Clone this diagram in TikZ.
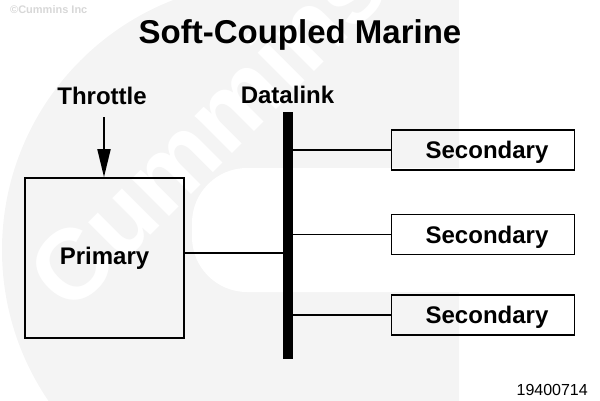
\documentclass[tikz,border=0pt]{standalone}
\usepackage{fontspec}
\setmainfont{Liberation Sans}
\usetikzlibrary{arrows.meta}
\definecolor{wmgray}{RGB}{244,244,244}
\definecolor{copygray}{RGB}{215,215,215}
\begin{document}
\begin{tikzpicture}[x=1pt,y=-1pt,
  box/.style={draw=black, line width=1.6pt, inner sep=0pt, font=\bfseries\fontsize{24}{28}\selectfont},
  secbox/.style={box, minimum width=183pt, minimum height=40pt, text height=17.3pt, text depth=0pt},
  lbl/.style={font=\bfseries\fontsize{24}{28}\selectfont, inner sep=0pt, anchor=base},
  conn/.style={line width=1.8pt}]
\useasboundingbox (0,0) rectangle (600,400);
% watermark
\begin{scope}
  \clip (0,0) rectangle (459,400);
  \fill[wmgray] (270,250) circle[radius=268pt];
  \fill[wmgray] (270,0) rectangle (459,400);
\end{scope}
\fill[white, rounded corners=55pt] (192,168) rectangle (520,292);
\node[text=white, font=\bfseries\fontsize{100}{100}\selectfont, rotate=45, anchor=base west, inner sep=0pt] (wm) at (70,316) {Cummins};
\node[text=copygray, font=\bfseries\fontsize{11}{12}\selectfont, anchor=base west, inner sep=0pt] (copy) at (10,13) {©Cummins Inc};
% title
\node[font=\bfseries\fontsize{33}{36}\selectfont, anchor=base, inner sep=0pt] (title) at (300,43) {Soft-Coupled Marine};
% labels
\node[lbl] (throttle) at (102,104) {Throttle};
\node[lbl] (datalink) at (287.5,103) {Datalink};
% boxes
\node[box, minimum width=159pt, minimum height=160pt] (primary) at (104.5,258) {Primary};
\node[fill=black, minimum width=10pt, minimum height=247pt, inner sep=0pt] (bus) at (288,235.5) {};
\node[secbox] (s1) at (483,150) {\hspace*{8pt}Secondary};
\node[secbox] (s2) at (483,234.5) {\hspace*{8pt}Secondary};
\node[secbox] (s3) at (483,315) {\hspace*{8pt}Secondary};
% throttle arrow
\coordinate (thr) at (104,117);
\draw[line width=1.8pt, -{Triangle[width=13pt,length=28pt]}] (thr) -- (thr |- primary.north);
% connectors
\coordinate (pe) at ([yshift=5pt]primary.east);
\draw[conn] (pe) -- (pe -| bus.west);
\draw[conn] (s1.west -| bus.east) -- (s1.west);
\draw[conn] (s2.west -| bus.east) -- (s2.west);
\draw[conn] (s3.west -| bus.east) -- (s3.west);
% figure number
\node[font=\fontsize{16}{18}\selectfont, anchor=base east, inner sep=0pt] (num) at (588,395) {19400714};
\end{tikzpicture}
\end{document}
